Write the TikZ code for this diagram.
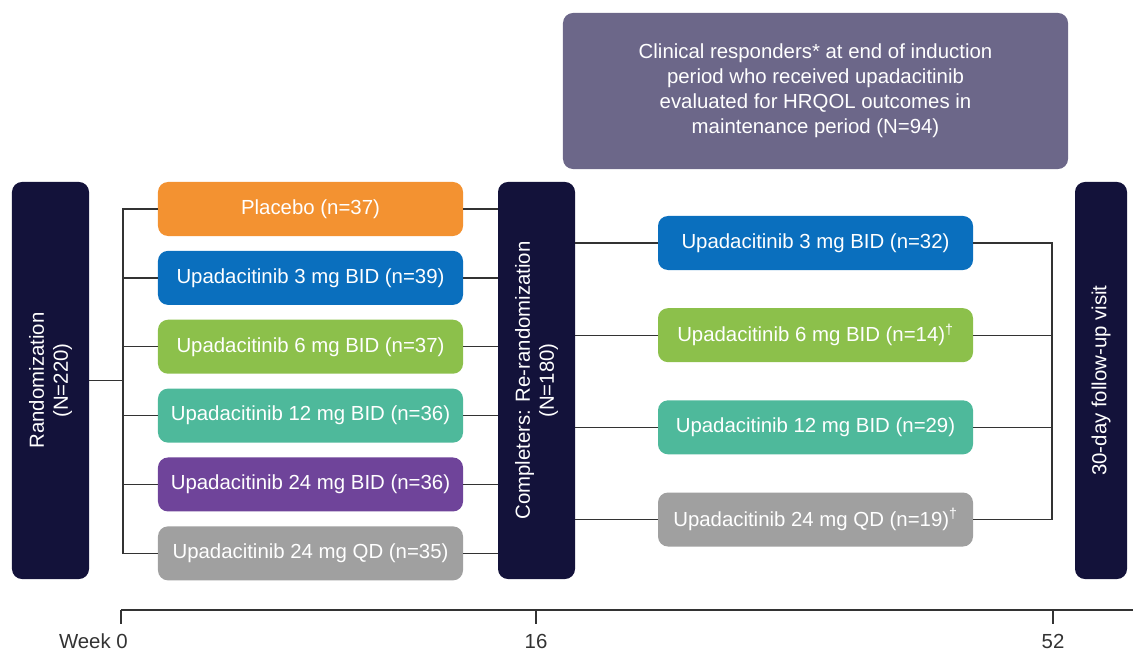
\documentclass[tikz,border=0pt]{standalone}
\usepackage{fontspec}
\setmainfont{Liberation Sans}
\usetikzlibrary{positioning}
\definecolor{navy}{HTML}{13123A}
\definecolor{slate}{HTML}{6C6789}
\definecolor{armorange}{HTML}{F39231}
\definecolor{armblue}{HTML}{0A6FBE}
\definecolor{armgreen}{HTML}{8CC04B}
\definecolor{armteal}{HTML}{4EB99B}
\definecolor{armviolet}{HTML}{6F449A}
\definecolor{armgray}{HTML}{A0A0A0}
\definecolor{linegray}{HTML}{333333}

\begin{document}
\begin{tikzpicture}[x=0.03cm,y=-0.03cm]

  \tikzset{main node/.style={rectangle, text=white, text centered,
  		rounded corners=0.3cm, inner sep=0pt,
  		font=\fontsize{17.4}{20.5}\selectfont}, }
  \tikzset{arm node/.style={main node, minimum width=9.15cm, minimum height=1.62cm}, }
  \tikzset{keep node/.style={main node, minimum width=9.45cm, minimum height=1.62cm}, }
  \tikzset{dark node/.style={main node, fill=navy, rotate=90, align=center,
  		minimum width=11.91cm}, }
  \tikzset{linea/.style={draw=linegray, line width=1.1pt}, }
  \tikzset{week/.style={text=linegray, inner sep=0pt, font=\fontsize{17.4}{20.5}\selectfont}, }
\useasboundingbox (0,0) rectangle (1133,651);
\node[dark node, minimum height=2.31cm] (1) at (50.5,380.5) {Randomization\\(N=220)};
\node[arm node, fill=armorange] (2) at (310.5,209) {Placebo (n=37)};
\begin{scope}[node distance=0.432cm]
\node[arm node, fill=armblue] (3) [below=of 2] {Upadacitinib 3 mg BID (n=39)};
\node[arm node, fill=armgreen] (4) [below=of 3] {Upadacitinib 6 mg BID (n=37)};
\node[arm node, fill=armteal] (5) [below=of 4] {Upadacitinib 12 mg BID (n=36)};
\node[arm node, fill=armviolet] (6) [below=of 5] {Upadacitinib 24 mg BID (n=36)};
\node[arm node, fill=armgray] (7) [below=of 6] {Upadacitinib 24 mg QD (n=35)};
\end{scope}
\node[dark node, minimum height=2.31cm] (8) at (536.5,380.5) {Completers: Re-randomization\\(N=180)};
\node[keep node, fill=armblue] (9) at (815.5,243) {Upadacitinib 3 mg BID (n=32)};
\begin{scope}[node distance=1.131cm]
\node[keep node, fill=armgreen] (10) [below=of 9] {Upadacitinib 6 mg BID (n=14)\textsuperscript{†}};
\node[keep node, fill=armteal] (11) [below=of 10] {Upadacitinib 12 mg BID (n=29)};
\node[keep node, fill=armgray] (12) [below=of 11] {Upadacitinib 24 mg QD (n=19)\textsuperscript{†}};
\end{scope}
\node[dark node, minimum height=1.56cm] (13) at (1101,380.5) {30-day follow-up visit};
\node[main node, fill=slate, minimum width=15.15cm, minimum height=4.68cm, align=center,
  font=\fontsize{17.4}{21.3}\selectfont] (14) at (815.5,91)
  {Clinical responders* at end of induction\\period who received upadacitinib\\evaluated for HRQOL outcomes in\\maintenance period (N=94)};

%% brackets
\coordinate (b1) at (123,380.5);
\coordinate (b2) at (1052,380.5);
\path[linea] (1.south) -- (b1);
\foreach \x in {2,...,7}
  \path[linea] (\x.west) -| (b1);
\foreach \x in {2,...,7}
  \path[linea] (\x.east) -- (\x.east -| 8.north);
\foreach \x in {9,...,12}
  \path[linea] (\x.west -| 8.south) -- (\x.west);
\foreach \x in {9,...,12}
  \path[linea] (\x.east) -| (b2);

%% timeline
\coordinate (w0) at (121,610);
\coordinate (w16) at (536,610);
\coordinate (w52) at (1053,610);
\coordinate (wend) at (1133,610);
\path[linea] (w0) -- (wend);
\foreach \x in {w0,w16,w52}
  \path[linea] (\x) -- ++(0,14);
\node[week, anchor=east] (15) at (128,641) {Week 0};
\node[week] (16) at (536,641) {16};
\node[week] (17) at (1053,641) {52};
\end{tikzpicture}
\end{document}
